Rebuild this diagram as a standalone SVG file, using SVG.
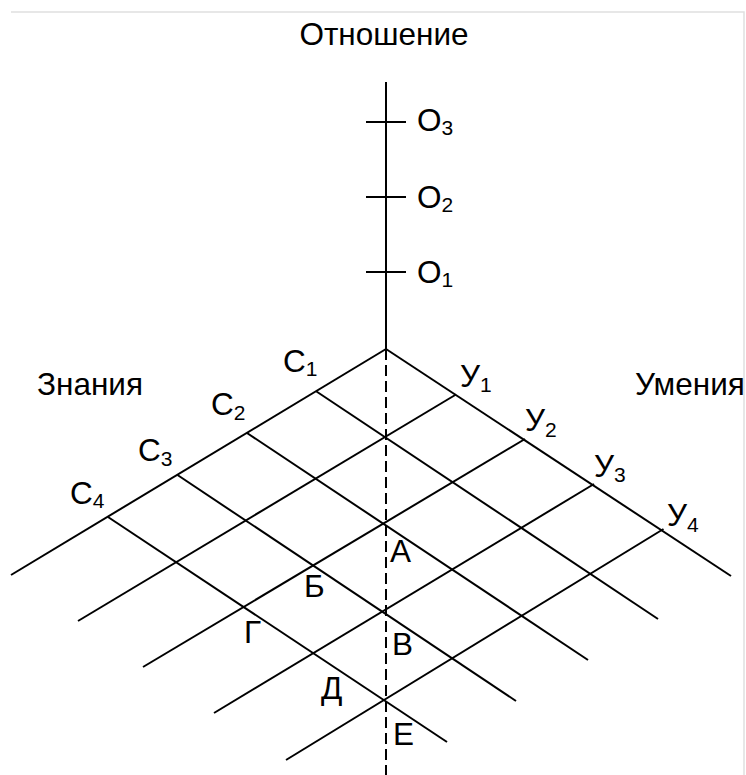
<svg xmlns="http://www.w3.org/2000/svg" width="746" height="775" viewBox="0 0 746 775">
<style>
.ln{stroke:#000;stroke-width:2;fill:none}
.dash{stroke:#000;stroke-width:2;fill:none;stroke-dasharray:11 5}
.frame{stroke:#e0e0e0;stroke-width:1.5;fill:none}
text{font-family:"Liberation Sans",Arial,sans-serif;font-size:31.5px;fill:#000}
.sub{font-size:21px}
</style>
<rect width="746" height="775" fill="#fff"/>
<path class="frame" d="M11 12H744V775"/>
<g id="axes">
<line class="ln" x1="386" y1="82" x2="386" y2="349"/>
<line class="dash" x1="386" y1="349" x2="386" y2="775"/>
<line class="ln" x1="386" y1="349" x2="11" y2="575"/>
<line class="ln" x1="386" y1="349" x2="731" y2="576"/>
<line class="ln" x1="366" y1="122" x2="406" y2="122"/>
<line class="ln" x1="366" y1="197" x2="406" y2="197"/>
<line class="ln" x1="366" y1="272" x2="406" y2="272"/>
</g>
<g id="grid">
<line class="ln" x1="316.5" y1="391.5" x2="658" y2="619"/>
<line class="ln" x1="247" y1="433" x2="588" y2="660"/>
<line class="ln" x1="177.5" y1="475" x2="516" y2="701"/>
<line class="ln" x1="108" y1="517" x2="447" y2="742"/>
<line class="ln" x1="456" y1="394.5" x2="78" y2="621"/>
<line class="ln" x1="525" y1="439" x2="143" y2="667"/>
<line class="ln" x1="594" y1="484" x2="214" y2="713"/>
<line class="ln" x1="663.5" y1="529" x2="286" y2="760"/>
</g>
<g id="titles">
<text x="384" y="45" text-anchor="middle">Отношение</text>
<text x="37" y="395">Знания</text>
<text x="635" y="395">Умения</text>
</g>
<g id="o-labels">
<text x="417" y="131">О<tspan class="sub" dy="4">3</tspan></text>
<text x="417" y="208">О<tspan class="sub" dy="4">2</tspan></text>
<text x="417" y="283">О<tspan class="sub" dy="4">1</tspan></text>
</g>
<g id="c-labels">
<text x="283" y="372">С<tspan class="sub" dy="4">1</tspan></text>
<text x="211" y="415">С<tspan class="sub" dy="5">2</tspan></text>
<text x="138" y="461">С<tspan class="sub" dy="5">3</tspan></text>
<text x="70" y="504">С<tspan class="sub" dy="4">4</tspan></text>
</g>
<g id="u-labels">
<text x="460" y="387">У<tspan class="sub" dy="5">1</tspan></text>
<text x="525" y="431">У<tspan class="sub" dy="6">2</tspan></text>
<text x="594" y="477">У<tspan class="sub" dy="5">3</tspan></text>
<text x="667" y="526">У<tspan class="sub" dy="6">4</tspan></text>
</g>
<g id="points">
<text x="390" y="562">А</text>
<text x="304" y="597">Б</text>
<text x="392" y="655">В</text>
<text x="244" y="643">Г</text>
<text x="321" y="699">Д</text>
<text x="393" y="745">Е</text>
</g>
</svg>
